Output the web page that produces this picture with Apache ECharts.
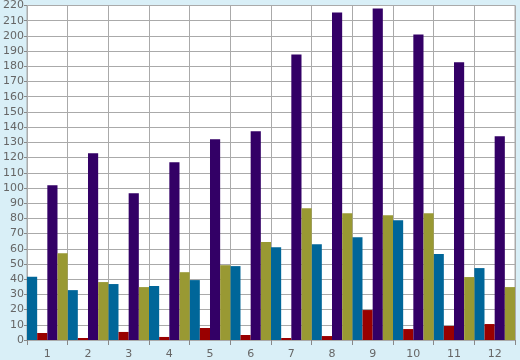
<!DOCTYPE html>
<html><head><meta charset="utf-8">
<script src="https://cdn.jsdelivr.net/npm/echarts@6/dist/echarts.min.js"></script>
<style>html,body{margin:0;padding:0;background:#d9eff7;}#c{width:520px;height:360px;}</style>
</head><body><div id="c"></div>
<script>
const categories = ['1','2','3','4','5','6','7','8','9','10','11','12'];
const seriesBlue   = [41.6, 32.8, 36.8, 35.5, 39.4, 48.6, 61, 63, 67.6, 78.8, 56.5, 47.3];
const seriesRed    = [4.6, 1.3, 5.3, 2, 7.9, 3.3, 1.3, 2.6, 19.7, 7.2, 9.2, 10.5];
const seriesPurple = [101.8, 122.8, 96.5, 116.9, 132, 137.3, 187.8, 215.4, 218, 201, 182.6, 134];
const seriesOlive  = [57.1, 38.1, 34.8, 44.6, 49.2, 64.4, 86.7, 83.4, 82.1, 83.4, 41.4, 34.8];
const yTicks = {min: 0, max: 220, interval: 10};

const chart = echarts.init(document.getElementById('c'), null, {renderer: 'canvas'});
const lblFont = {color: '#666666', fontFamily: 'DejaVu Sans', fontSize: 11};
function mk(name, data, color) {
  return {name, type: 'bar', data, itemStyle: {color}, barGap: '0%', barCategoryGap: '0%', animation: false};
}
chart.setOption({
  backgroundColor: '#d9eff7',
  animation: false,
  grid: {left: 26, right: 5, top: 5, bottom: 20, show: true, backgroundColor: '#ffffff', borderColor: '#aaaaaa', borderWidth: 1},
  xAxis: {
    type: 'category', data: categories, boundaryGap: true,
    axisLine: {show: true, lineStyle: {color: '#aaaaaa'}},
    axisTick: {show: true, length: 5, lineStyle: {color: '#888888'}},
    splitLine: {show: true, lineStyle: {color: '#aaaaaa', width: 1}},
    axisLabel: Object.assign({margin: 9}, lblFont)
  },
  yAxis: {
    type: 'value', min: yTicks.min, max: yTicks.max, interval: yTicks.interval,
    axisLine: {show: true, lineStyle: {color: '#aaaaaa'}},
    axisTick: {show: true, length: 3, lineStyle: {color: '#888888'}},
    splitLine: {show: true, lineStyle: {color: '#aaaaaa', width: 1}},
    axisLabel: Object.assign({margin: 3}, lblFont)
  },
  series: [
    mk('A', seriesBlue, '#006699'),
    mk('B', seriesRed, '#990000'),
    mk('C', seriesPurple, '#330066'),
    mk('D', seriesOlive, '#999933')
  ]
});
</script></body></html>
